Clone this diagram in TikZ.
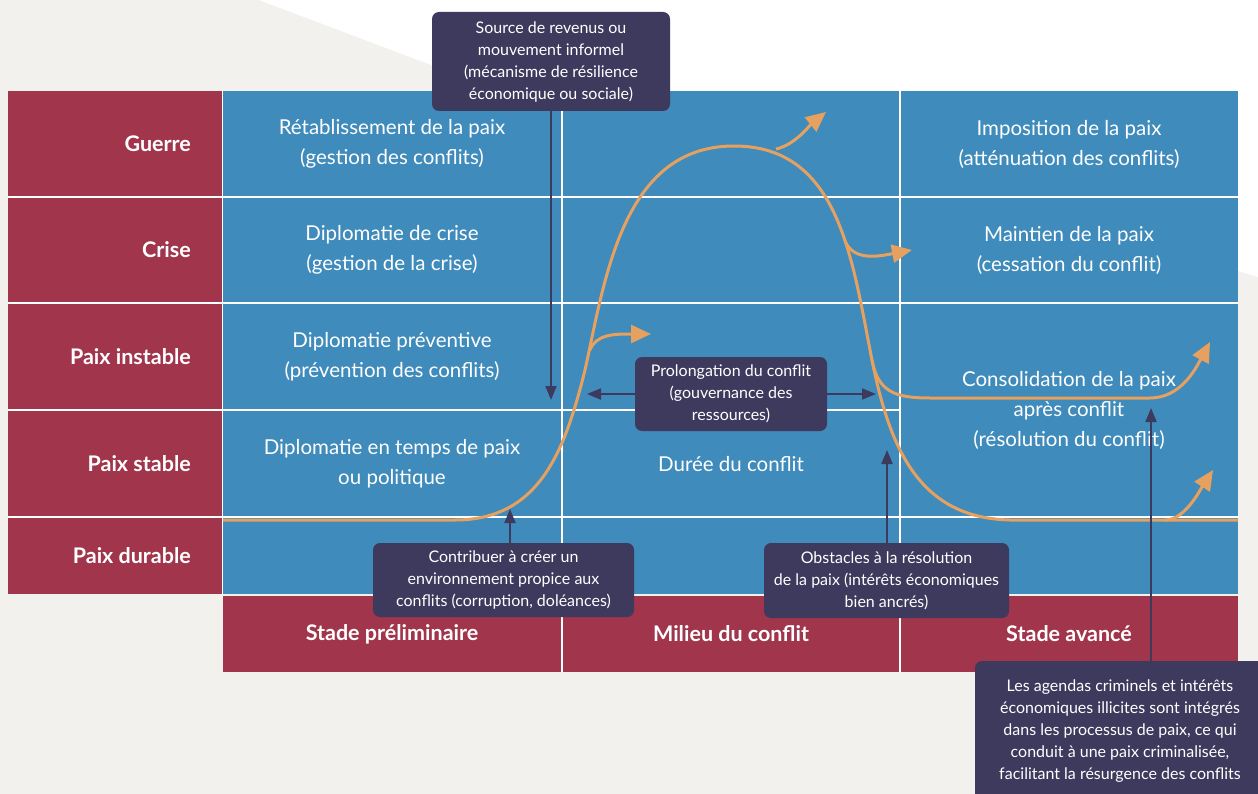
\documentclass[tikz,border=0pt]{standalone}
\usepackage{fontspec}
\setmainfont{Lato}
\usetikzlibrary{arrows.meta, positioning, calc}
\definecolor{warred}{HTML}{A0354C}
\definecolor{warblue}{HTML}{3F8BBB}
\definecolor{callbg}{HTML}{3D3A5D}
\definecolor{curveor}{HTML}{E6A160}
\definecolor{paper}{HTML}{F2F1EE}
\tikzset{
    level/.style={font=\fontsize{21.5}{24}\selectfont\bfseries, text=white, anchor=east, inner sep=0pt},
    cell/.style={font=\fontsize{20.5}{30}\selectfont, text=white, align=center},
    stage/.style={font=\fontsize{21.5}{24}\selectfont\bfseries, text=white},
    callout/.style={fill=callbg, rounded corners=7pt, text=white, align=center,
        font=\fontsize{16}{22}\selectfont, inner sep=0pt},
    curve/.style={draw=curveor, line width=3pt},
    curvearrow/.style={curve, -{Triangle[length=20pt,width=18pt]}},
    pointer/.style={draw=callbg, line width=2pt, -{Triangle[length=14pt,width=11pt]}},
    gridline/.style={draw=white, line width=1.5pt}
}

\begin{document}
\begin{tikzpicture}[x=1pt, y=-1pt]
    % Page and backdrop
    \fill[paper] (0,0) rectangle (1258,794);
    \useasboundingbox (0,0) rectangle (1258,794);
    \clip (0,0) rectangle (1258,794);
    \fill[white] (259,0) -- (1258,0) -- (1258,277) -- (1000,200) -- (500,91) -- cycle;
    % Blocks
    \fill[warred] (8,91) rectangle (222,594);
    \fill[warblue] (223,91) rectangle (1238,594);
    \fill[warred] (223,596) rectangle (1238,672);
    % Grid lines
    \draw[gridline] (8,197) -- (1238,197);
    \draw[gridline] (8,303) -- (1238,303);
    \draw[gridline] (8,410) -- (900,410);
    \draw[gridline] (8,517) -- (1238,517);
    \draw[gridline] (222.5,91) -- (222.5,594);
    \draw[gridline] (562,91) -- (562,672);
    \draw[gridline] (900,91) -- (900,672);

    % Levels
    \node[level] (guerre) at (191,144) {Guerre};
    \node[level] (crise) at (191,250) {Crise};
    \node[level] (instable) at (191,357) {Paix instable};
    \node[level] (stable) at (191,464) {Paix stable};
    \node[level] (durable) at (191,556) {Paix durable};
    % Stages
    \node[stage] (prelim) at (392,634) {Stade préliminaire};
    \node[stage] (milieu) at (731,634) {Milieu du conflit};
    \node[stage] (avance) at (1069,634) {Stade avancé};
    % Cell texts
    \node[cell] (retab) at (392,144) {Rétablissement de la paix\\(gestion des conflits)};
    \node[cell] (diplocrise) at (392,250) {Diplomatie de crise\\(gestion de la crise)};
    \node[cell] (preventive) at (392,357) {Diplomatie préventive\\(prévention des conflits)};
    \node[cell] (tempspaix) at (392,464) {Diplomatie en temps de paix\\ou politique};
    \node[cell] (duree) at (731,464) {Durée du conflit};
    \node[cell] (imposition) at (1069,144) {Imposition de la paix\\(atténuation des conflits)};
    \node[cell] (maintien) at (1069,250) {Maintien de la paix\\(cessation du conflit)};
    \node[cell] (consol) at (1069,410) {Consolidation de la paix\\après conflit\\(résolution du conflit)};

    % Conflict curve
    \draw[curve] (223,520) -- (455,520) .. controls (540,520) and (565,450) .. (585,370)
        .. controls (605,280) and (622,146) .. (734,146)
        .. controls (840,146) and (852,260) .. (872,360)
        .. controls (890,450) and (920,518) .. (1010,520) -- (1238,520);
    % Escalation branches
    \draw[curvearrow] (590,350) .. controls (596,334) and (615,334) .. (651,334);
    \draw[curvearrow] (776,149) .. controls (795,145) and (810,125) .. (826,112);
    \draw[curvearrow] (845,241) .. controls (854,262) and (880,256) .. (912,250);
    % Post-conflict branches
    \draw[curve] (872,360) .. controls (878,392) and (895,398) .. (930,398) -- (1150,398);
    \draw[curvearrow] (1150,398) .. controls (1180,398) and (1195,370) .. (1210,342);
    \draw[curvearrow] (1165,520) .. controls (1185,520) and (1200,490) .. (1213,470);

    % Callouts
    \node[callout, minimum width=238pt, minimum height=99pt] (revenus) at (551,61.5)
        {Source de revenus ou\\mouvement informel\\(mécanisme de résilience\\économique ou sociale)};
    \node[callout, minimum width=192pt, minimum height=74pt] (prolong) at (731,394)
        {Prolongation du conflit\\(gouvernance des\\ressources)};
    \node[callout, minimum width=261pt, minimum height=74pt] (contrib) at (503.5,580)
        {Contribuer à créer un\\environnement propice aux\\conflits (corruption, doléances)};
    \node[callout, minimum width=245pt, minimum height=75pt] (obstacles) at (886.5,580.5)
        {Obstacles à la résolution\\de la paix (intérêts économiques\\bien ancrés)};
    \node[callout, minimum width=290pt, minimum height=140pt] (agendas) at (1120,731)
        {Les agendas criminels et intérêts\\économiques illicites sont intégrés\\dans les processus de paix, ce qui\\conduit à une paix criminalisée,\\facilitant la résurgence des conflits};

    % Pointers
    \coordinate (revenusTip) at (551,400);
    \coordinate (prolongL) at (587,394);
    \coordinate (prolongR) at (876,394);
    \coordinate (contribTip) at (510,509);
    \coordinate (obstaclesTip) at (887,450);
    \coordinate (agendasTip) at (1151,408);
    \draw[pointer] (revenus.south) -- (revenusTip);
    \draw[pointer] (prolong.west) -- (prolongL);
    \draw[pointer] (prolong.east) -- (prolongR);
    \draw[pointer] (contrib.north -| contribTip) -- (contribTip);
    \draw[pointer] (obstacles.north -| obstaclesTip) -- (obstaclesTip);
    \draw[pointer] (agendas.north -| agendasTip) -- (agendasTip);
\end{tikzpicture}
\end{document}
